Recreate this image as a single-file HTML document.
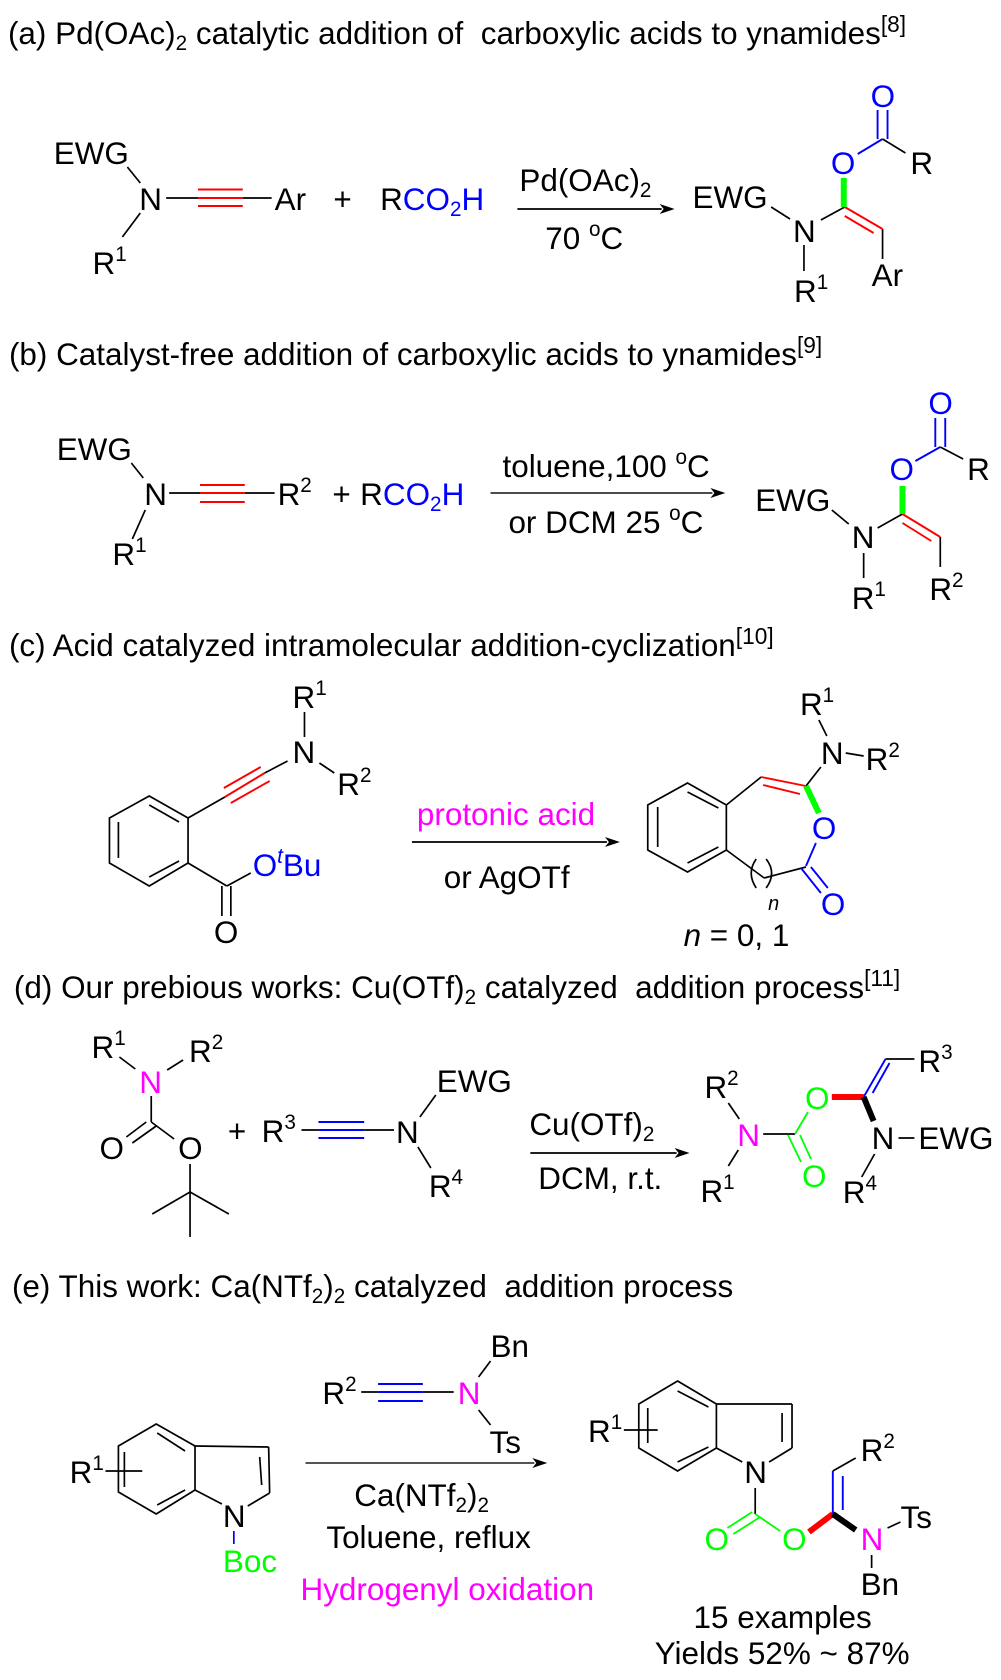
<!DOCTYPE html>
<html><head><meta charset="utf-8"><style>
html,body{margin:0;padding:0;background:#fff}
svg{display:block}
text{font-family:"Liberation Sans",Arial,sans-serif;font-size:31.6px;fill:#000;transform:translate(-1px,1px)}
text.t{transform:translate(0,1px)}
.s{font-size:20.8px}
.h{font-size:22.8px}
.b{fill:#0000ff}.m{fill:#ff00ff}.g{fill:#00ff00}
.k line,.k path,.k polyline{stroke:#000;stroke-width:1.7;fill:none}
.r line{stroke:#ff0000;stroke-width:1.9}
.u line{stroke:#0000ff;stroke-width:1.9}
.n line{stroke:#00ff00;stroke-width:1.8}
</style></head><body>
<svg xmlns="http://www.w3.org/2000/svg" width="1001" height="1680" viewBox="0 0 1001 1680">
<defs><filter id="soft" x="0" y="0" width="100%" height="100%"><feGaussianBlur stdDeviation="0.35"/></filter></defs>
<rect width="1001" height="1680" fill="#fff"/>
<g transform="scale(0.995 1)" filter="url(#soft)">

<!-- (a) -->
<text class="t" x="8" y="43">(a) Pd(OAc)<tspan class="s" dy="6">2</tspan><tspan dy="-6"> catalytic addition of &#160;carboxylic acids to ynamides</tspan><tspan class="h" dy="-12">[8]</tspan></text>
<text x="55" y="163">EWG</text><text x="141" y="209">N</text><text x="94" y="273">R<tspan class="s" dy="-13">1</tspan></text>
<text x="277" y="209">Ar</text><text x="336" y="209">+</text>
<text x="383" y="209">R<tspan class="b">CO</tspan><tspan class="s b" dy="6">2</tspan><tspan class="b" dy="-6">H</tspan></text>
<text x="523" y="190">Pd(OAc)<tspan class="s" dy="6">2</tspan></text>
<text x="549" y="248">70 <tspan class="s" dy="-13">o</tspan><tspan dy="13">C</tspan></text>
<text x="697" y="207">EWG</text><text x="798" y="241">N</text><text x="799" y="301">R<tspan class="s" dy="-13">1</tspan></text>
<text x="877" y="285">Ar</text><text x="836" y="173" class="b">O</text><text x="876" y="106" class="b">O</text><text x="916" y="173">R</text>
<g class="k">
<line x1="128" y1="167" x2="141" y2="183"/><line x1="141" y1="213" x2="123" y2="237"/>
<line x1="167" y1="198" x2="199" y2="198"/><line x1="244" y1="198" x2="273" y2="198"/>
<line x1="520" y1="209" x2="665" y2="209"/>
<line x1="775" y1="207" x2="794" y2="219"/><line x1="825" y1="220" x2="849" y2="207"/>
<line x1="887" y1="229" x2="887" y2="259"/><line x1="808" y1="245" x2="808" y2="271"/>
<line x1="887" y1="139" x2="910" y2="153"/>
</g>
<polygon points="678,209 663,204 667,209 663,214" fill="#000"/>
<g class="r"><line x1="199" y1="189.5" x2="244" y2="189.5"/><line x1="199" y1="198" x2="244" y2="198"/><line x1="199" y1="206" x2="244" y2="206"/>
<line x1="849" y1="207" x2="887" y2="229"/><line x1="849" y1="216" x2="878" y2="233"/></g>
<line x1="848" y1="178" x2="848" y2="207" stroke="#00ff00" stroke-width="6"/>
<g class="u"><line x1="862" y1="154" x2="887" y2="139"/><line x1="882" y1="110" x2="882" y2="139"/><line x1="892" y1="110" x2="892" y2="139"/></g>

<!-- (b) -->
<text class="t" x="9" y="364">(b) Catalyst-free addition of carboxylic acids to ynamides<tspan class="h" dy="-12">[9]</tspan></text>
<text x="58" y="459">EWG</text><text x="146" y="504">N</text><text x="114" y="564">R<tspan class="s" dy="-13">1</tspan></text>
<text x="280" y="504">R<tspan class="s" dy="-13">2</tspan></text><text x="335" y="504">+</text>
<text x="363" y="504">R<tspan class="b">CO</tspan><tspan class="s b" dy="6">2</tspan><tspan class="b" dy="-6">H</tspan></text>
<text x="506" y="476">toluene,100 <tspan class="s" dy="-13">o</tspan><tspan dy="13">C</tspan></text>
<text x="512" y="532">or DCM 25 <tspan class="s" dy="-13">o</tspan><tspan dy="13">C</tspan></text>
<text x="760" y="510">EWG</text><text x="857" y="547">N</text><text x="857" y="608">R<tspan class="s" dy="-13">1</tspan></text>
<text x="935" y="599">R<tspan class="s" dy="-13">2</tspan></text>
<text x="895" y="479" class="b">O</text><text x="934" y="413" class="b">O</text><text x="973" y="479">R</text>
<g class="k">
<line x1="132" y1="463" x2="144" y2="478"/><line x1="146" y1="510" x2="133" y2="539"/>
<line x1="170" y1="493" x2="201" y2="493"/><line x1="246" y1="493" x2="276" y2="493"/>
<line x1="836" y1="510" x2="853" y2="524"/><line x1="882" y1="528" x2="907" y2="514"/>
<line x1="945" y1="537" x2="945" y2="567"/><line x1="868" y1="553" x2="868" y2="578"/>
<line x1="945" y1="447" x2="968" y2="459"/>
</g>
<line x1="493" y1="493" x2="716" y2="493" stroke="#333" stroke-width="1.7"/>
<polygon points="729,493 714,488 718,493 714,498" fill="#000"/>
<g class="r"><line x1="201" y1="485" x2="246" y2="485"/><line x1="201" y1="493" x2="246" y2="493"/><line x1="201" y1="502" x2="246" y2="502"/>
<line x1="907" y1="514" x2="945" y2="537"/><line x1="907" y1="523" x2="936" y2="541"/></g>
<line x1="907" y1="486" x2="907" y2="514" stroke="#00ff00" stroke-width="6"/>
<g class="u"><line x1="920" y1="461" x2="945" y2="447"/><line x1="940" y1="418" x2="940" y2="447"/><line x1="950" y1="418" x2="950" y2="447"/></g>

<!-- (c) -->
<text class="t" x="9" y="655">(c) Acid catalyzed intramolecular addition-cyclization<tspan class="h" dy="-12">[10]</tspan></text>
<text x="295" y="707">R<tspan class="s" dy="-13">1</tspan></text><text x="295" y="762">N</text><text x="340" y="794">R<tspan class="s" dy="-13">2</tspan></text>
<text x="216" y="942">O</text>
<text x="255" y="875" class="b">O<tspan class="s b" dy="-13" font-style="italic">t</tspan><tspan class="b" dy="13">Bu</tspan></text>
<text x="420" y="824" class="m">protonic acid</text><text x="447" y="887">or AgOTf</text>
<text x="805" y="714">R<tspan class="s" dy="-13">1</tspan></text><text x="826" y="763">N</text><text x="871" y="769">R<tspan class="s" dy="-13">2</tspan></text>
<text x="817" y="838" class="b">O</text><text x="826" y="914" class="b">O</text>
<text x="773" y="909" font-style="italic" style="font-size:20px">n</text>
<text x="688" y="945"><tspan font-style="italic">n</tspan> = 0, 1</text>
<g class="k">
<line x1="306" y1="712" x2="306" y2="737"/><line x1="321" y1="763" x2="336" y2="773"/>
<line x1="289" y1="761" x2="266" y2="773"/><line x1="226" y1="797" x2="189" y2="818"/>
<polygon points="150,796 189,818 189,863 150,886 110,863 110,818" fill="none" stroke="#000" stroke-width="1.7"/>
<line x1="150" y1="805" x2="180" y2="822"/><line x1="119" y1="822" x2="119" y2="858"/><line x1="150" y1="877" x2="180" y2="861"/>
<line x1="189" y1="863" x2="228" y2="886"/><line x1="228" y1="886" x2="252" y2="873"/>
<line x1="223" y1="886" x2="223" y2="916"/><line x1="232" y1="886" x2="232" y2="916"/>
<line x1="414" y1="842" x2="610" y2="842"/>
<polygon points="691,783 730,805 730,850 691,872 651,850 651,805" fill="none" stroke="#000" stroke-width="1.7"/>
<line x1="691" y1="792" x2="722" y2="808"/><line x1="661" y1="807" x2="661" y2="847"/><line x1="691" y1="863" x2="722" y2="847"/>
<line x1="730" y1="805" x2="765" y2="777"/>
<line x1="810" y1="867" x2="768" y2="878"/><line x1="768" y1="878" x2="730" y2="850"/>
<path d="M760 859Q750 873 760 888"/><path d="M770 859Q781 873 770 888"/>
<line x1="823" y1="720" x2="831" y2="736"/><line x1="825" y1="767" x2="810" y2="786"/><line x1="850" y1="753" x2="868" y2="756"/>
</g>
<polygon points="623,842 608,837 612,842 608,847" fill="#000"/>
<g class="r"><line x1="266" y1="773" x2="226" y2="797"/><line x1="262" y1="767" x2="225" y2="788"/><line x1="271" y1="781" x2="232" y2="803"/>
<line x1="765" y1="777" x2="810" y2="786"/><line x1="767" y1="785" x2="804" y2="794"/></g>
<line x1="810" y1="786" x2="823" y2="813" stroke="#00ff00" stroke-width="6"/>
<g class="u"><line x1="820" y1="843" x2="810" y2="866"/><line x1="805" y1="868" x2="825" y2="893"/><line x1="815" y1="867" x2="832" y2="888"/></g>

<!-- (d) -->
<text class="t" x="14" y="997">(d) Our prebious works: Cu(OTf)<tspan class="s" dy="6">2</tspan><tspan dy="-6"> catalyzed &#160;addition process</tspan><tspan class="h" dy="-12">[11]</tspan></text>
<text x="93" y="1057">R<tspan class="s" dy="-13">1</tspan></text><text x="191" y="1061">R<tspan class="s" dy="-13">2</tspan></text>
<text x="141" y="1092" class="m">N</text><text x="101" y="1158">O</text><text x="180" y="1158">O</text>
<text x="230" y="1141">+</text><text x="264" y="1141">R<tspan class="s" dy="-13">3</tspan></text><text x="399" y="1142">N</text>
<text x="440" y="1091">EWG</text><text x="432" y="1196">R<tspan class="s" dy="-13">4</tspan></text>
<text x="533" y="1134">Cu(OTf)<tspan class="s" dy="6">2</tspan></text><text x="542" y="1188">DCM, r.t.</text>
<text x="709" y="1097">R<tspan class="s" dy="-13">2</tspan></text><text x="705" y="1201">R<tspan class="s" dy="-13">1</tspan></text>
<text x="742" y="1145" class="m">N</text><text x="810" y="1108" class="g">O</text><text x="807" y="1186" class="g">O</text>
<text x="924" y="1071">R<tspan class="s" dy="-13">3</tspan></text><text x="877" y="1148">N</text><text x="924" y="1148">EWG</text><text x="848" y="1202">R<tspan class="s" dy="-13">4</tspan></text>
<g class="k">
<line x1="120" y1="1057" x2="136" y2="1069"/><line x1="184" y1="1060" x2="168" y2="1070"/>
<line x1="152" y1="1096" x2="152" y2="1122"/>
<line x1="147" y1="1122" x2="127" y2="1137"/><line x1="157" y1="1126" x2="133" y2="1143"/><line x1="152" y1="1122" x2="175" y2="1139"/>
<line x1="191" y1="1164" x2="191" y2="1237"/><line x1="191" y1="1192" x2="153" y2="1214"/><line x1="191" y1="1192" x2="230" y2="1214"/>
<line x1="303" y1="1130" x2="320" y2="1130"/><line x1="366" y1="1130" x2="396" y2="1130"/>
<line x1="422" y1="1117" x2="438" y2="1095"/><line x1="420" y1="1147" x2="433" y2="1168"/>
<line x1="533" y1="1153" x2="680" y2="1153"/>
<line x1="732" y1="1103" x2="743" y2="1119"/><line x1="742" y1="1150" x2="732" y2="1166"/>
<line x1="767" y1="1134" x2="799" y2="1134"/>
<line x1="890" y1="1059" x2="919" y2="1059"/><line x1="903" y1="1138" x2="919" y2="1138"/><line x1="879" y1="1154" x2="866" y2="1177"/>
</g>
<polygon points="693,1153 678,1148 682,1153 678,1158" fill="#000"/>
<g class="u"><line x1="320" y1="1122" x2="366" y2="1122"/><line x1="320" y1="1130" x2="366" y2="1130"/><line x1="320" y1="1138" x2="366" y2="1138"/>
<line x1="868" y1="1097" x2="890" y2="1059"/><line x1="877" y1="1093" x2="894" y2="1063"/></g>
<g class="n"><line x1="799" y1="1134" x2="812" y2="1112"/><line x1="792" y1="1135" x2="805" y2="1162"/><line x1="804" y1="1135" x2="815" y2="1159"/></g>
<line x1="836" y1="1097" x2="868" y2="1097" stroke="#ff0000" stroke-width="6"/>
<line x1="868" y1="1097" x2="878" y2="1121" stroke="#000" stroke-width="6"/>

<!-- (e) -->
<text class="t" x="12" y="1296">(e) This work: Ca(NTf<tspan class="s" dy="6">2</tspan><tspan dy="-6">)</tspan><tspan class="s" dy="6">2</tspan><tspan dy="-6"> catalyzed &#160;addition process</tspan></text>
<text x="71" y="1482">R<tspan class="s" dy="-13">1</tspan></text><text x="225" y="1526">N</text><text x="225" y="1571" class="g">Boc</text>
<text x="325" y="1403">R<tspan class="s" dy="-13">2</tspan></text><text x="461" y="1403" class="m">N</text><text x="494" y="1356">Bn</text><text x="493" y="1452">Ts</text>
<text x="357" y="1505">Ca(NTf<tspan class="s" dy="6">2</tspan><tspan dy="-6">)</tspan><tspan class="s" dy="6">2</tspan></text>
<text x="329" y="1547">Toluene, reflux</text><text x="303" y="1599" class="m">Hydrogenyl oxidation</text>
<text x="592" y="1441">R<tspan class="s" dy="-13">1</tspan></text><text x="749" y="1482">N</text>
<text x="709" y="1549" class="g">O</text><text x="787" y="1549" class="g">O</text>
<text x="866" y="1460">R<tspan class="s" dy="-13">2</tspan></text><text x="866" y="1549" class="m">N</text><text x="906" y="1527">Ts</text><text x="866" y="1594">Bn</text>
<text x="698" y="1627">15 examples</text><text x="659" y="1663">Yields 52% ~ 87%</text>
<g class="k">
<polygon points="157,1424 196,1446 196,1490 157,1514 119,1492 119,1446" fill="none" stroke="#000" stroke-width="1.7"/>
<line x1="158" y1="1433" x2="186" y2="1451"/><line x1="158" y1="1505" x2="186" y2="1490"/><line x1="125" y1="1452" x2="125" y2="1487"/>
<line x1="106" y1="1471" x2="143" y2="1471"/>
<line x1="196" y1="1446" x2="270" y2="1447"/><line x1="270" y1="1447" x2="271" y2="1493"/><line x1="261" y1="1457" x2="263" y2="1485"/>
<line x1="271" y1="1493" x2="249" y2="1506"/><line x1="196" y1="1490" x2="223" y2="1504"/>
<line x1="363" y1="1392" x2="380" y2="1392"/><line x1="425" y1="1392" x2="456" y2="1392"/>
<line x1="481" y1="1377" x2="493" y2="1361"/><line x1="481" y1="1410" x2="493" y2="1425"/>
<polygon points="681,1381 720,1404 720,1448 681,1471 642,1448 642,1404" fill="none" stroke="#000" stroke-width="1.7"/>
<line x1="681" y1="1391" x2="712" y2="1407"/><line x1="681" y1="1462" x2="712" y2="1447"/><line x1="651" y1="1408" x2="651" y2="1443"/>
<line x1="627" y1="1430" x2="661" y2="1430"/>
<line x1="720" y1="1404" x2="796" y2="1404"/><line x1="796" y1="1404" x2="796" y2="1448"/><line x1="786" y1="1413" x2="786" y2="1442"/>
<line x1="796" y1="1448" x2="773" y2="1462"/><line x1="720" y1="1448" x2="746" y2="1462"/>
<line x1="759" y1="1488" x2="759" y2="1514"/>
<line x1="837" y1="1471" x2="860" y2="1458"/><line x1="892" y1="1528" x2="905" y2="1522"/><line x1="876" y1="1555" x2="876" y2="1568"/>
</g>
<line x1="307" y1="1463" x2="537" y2="1463" stroke="#555" stroke-width="2"/>
<polygon points="550,1463 535,1458 539,1463 535,1468" fill="#000"/>
<line x1="235" y1="1531" x2="235" y2="1544" stroke="#0000ff" stroke-width="1.7"/>
<g class="u"><line x1="380" y1="1384" x2="425" y2="1384"/><line x1="380" y1="1392" x2="425" y2="1392"/><line x1="380" y1="1401" x2="425" y2="1401"/>
<line x1="837" y1="1471" x2="837" y2="1514"/><line x1="847" y1="1476" x2="847" y2="1510"/></g>
<g class="n"><line x1="756" y1="1512" x2="731" y2="1528"/><line x1="764" y1="1517" x2="737" y2="1534"/><line x1="759" y1="1514" x2="784" y2="1531"/></g>
<line x1="813" y1="1532" x2="837" y2="1514" stroke="#ff0000" stroke-width="6"/>
<line x1="837" y1="1514" x2="860" y2="1530" stroke="#000" stroke-width="6"/>
</g>
</svg>
</body></html>
